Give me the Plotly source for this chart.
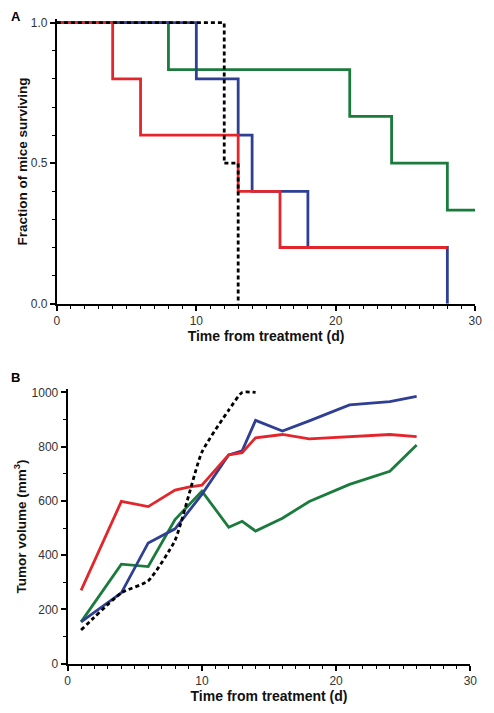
import plotly.graph_objects as go

# ---------------- Data ----------------
# Panel A: Kaplan-Meier survival (event times, surviving fraction)
surv_red_t = [0, 4, 6, 13, 16, 28]
surv_red_s = [1.0, 0.8, 0.6, 0.4, 0.2, 0.2]
surv_blue_t = [0, 10, 13, 14, 18, 28]
surv_blue_s = [1.0, 0.8, 0.6, 0.4, 0.2, 0.0]
surv_green_t = [0, 8, 21, 24, 28, 30]
surv_green_s = [1.0, 0.833, 0.667, 0.5, 0.333, 0.333]
surv_black_t = [0, 12, 13]
surv_black_s = [1.0, 0.5, 0.0]

# Panel B: tumor volume (mm^3)
vol_red_t = [1, 4, 6, 8, 9, 10, 12, 13, 14, 16, 18, 21, 24, 26]
vol_red_v = [270, 598, 579, 640, 651, 658, 770, 778, 833, 845, 829, 837, 845, 837]
vol_blue_t = [1, 4, 6, 8, 10, 12, 13, 14, 16, 18, 21, 24, 26]
vol_blue_v = [154, 261, 445, 497, 624, 770, 785, 897, 858, 895, 954, 966, 986]
vol_green_t = [1, 4, 6, 8, 10, 12, 13, 14, 16, 18, 21, 24, 26]
vol_green_v = [154, 367, 358, 531, 636, 503, 525, 489, 536, 598, 661, 709, 806]
vol_black_t = [1, 4, 6, 8, 10, 12, 13, 14]
vol_black_v = [124, 261, 305, 455, 780, 935, 1000, 1000]

RED = "#e3262c"
BLUE = "#2f3f93"
GREEN = "#1b7b3d"
BLACK = "#000000"
LW = 2.8
FONT = "Liberation Sans, Arial, sans-serif"

W, H = 494, 713

def px_x(p):
    return p / W

def px_y(p):
    return 1 - p / H

fig = go.Figure()

# Panel A traces
for t, s, c, dash in [
    (surv_green_t, surv_green_s, GREEN, "solid"),
    (surv_blue_t, surv_blue_s, BLUE, "solid"),
    (surv_red_t, surv_red_s, RED, "solid"),
    (surv_black_t, surv_black_s, BLACK, "4px,3px"),
]:
    fig.add_trace(go.Scatter(x=t, y=s, mode="lines", line=dict(color=c, width=LW, dash=dash, shape="hv"),
                             xaxis="x", yaxis="y", showlegend=False, hoverinfo="skip"))

# Panel B traces
for t, v, c, dash, shape in [
    (vol_green_t, vol_green_v, GREEN, "solid", "linear"),
    (vol_blue_t, vol_blue_v, BLUE, "solid", "linear"),
    (vol_red_t, vol_red_v, RED, "solid", "linear"),
    (vol_black_t, vol_black_v, BLACK, "4px,3px", "spline"),
]:
    fig.add_trace(go.Scatter(x=t, y=v, mode="lines",
                             line=dict(color=c, width=LW, dash=dash, shape=shape, smoothing=0.5),
                             xaxis="x2", yaxis="y2", showlegend=False, hoverinfo="skip"))

tickfont = dict(family=FONT, size=12, color="#333333")
xtitlefont = dict(family=FONT, size=14, color="#111111")
ytitlefont = dict(family=FONT, size=13.5, color="#111111")

# Panel A: plot area x 55..482, y(1.0)=20, y(0)=305 (screenshot px)
a_top_extra = 0.012
a_top_px = 20 - a_top_extra * (305 - 20)

# Panel B: x 66..477, y(1000)=395, y(0)=670
b_top_extra = 12
b_top_px = 395 - b_top_extra * (670 - 395) / 1000

axis_common = dict(showgrid=False, zeroline=False, showline=True, linecolor="black", linewidth=2,
                   ticks="outside", ticklen=5, tickwidth=1.5, tickcolor="black", tickfont=tickfont)
minor_common = dict(ticks="outside", ticklen=3, tickwidth=1.2, tickcolor="black")

fig.update_layout(
    width=W, height=H,
    margin=dict(l=0, r=0, t=0, b=0),
    paper_bgcolor="white", plot_bgcolor="white",
    xaxis=dict(domain=[px_x(55), px_x(482)], range=[0, 30], tickvals=[0, 10, 20, 30],
               minor=dict(dtick=1, **minor_common),
               title=dict(text="<b>Time from treatment (d)</b>", font=xtitlefont, standoff=3),
               anchor="y", **axis_common),
    yaxis=dict(domain=[px_y(305), px_y(a_top_px)], range=[0, 1.0 + a_top_extra],
               tickvals=[0, 0.5, 1.0], tickformat=".1f",
               minor=dict(dtick=0.1, **minor_common),
               title=dict(text="<b>Fraction of mice surviving</b>", font=ytitlefont, standoff=0),
               anchor="x", **axis_common),
    xaxis2=dict(domain=[px_x(66), px_x(477)], range=[0, 30], tickvals=[0, 10, 20, 30],
                minor=dict(dtick=1, **minor_common),
                title=dict(text="<b>Time from treatment (d)</b>", font=xtitlefont, standoff=3),
                anchor="y2", **axis_common),
    yaxis2=dict(domain=[px_y(670), px_y(b_top_px)], range=[0, 1000 + b_top_extra],
                tickvals=[0, 200, 400, 600, 800, 1000],
                minor=dict(dtick=100, **minor_common),
                title=dict(text="<b>Tumor volume (mm<sup>3</sup>)</b>", font=ytitlefont, standoff=2),
                anchor="x2", **axis_common),
    annotations=[
        dict(text="<b>A</b>", x=px_x(6), y=px_y(4), xref="paper", yref="paper",
             xanchor="left", yanchor="top", showarrow=False, font=dict(family=FONT, size=13, color="black")),
        dict(text="<b>B</b>", x=px_x(6), y=px_y(370), xref="paper", yref="paper",
             xanchor="left", yanchor="top", showarrow=False, font=dict(family=FONT, size=13, color="black")),
    ],
)

fig.write_html("out.html", config={"displayModeBar": False},
               post_script="document.body.style.margin='0px'; document.body.style.overflow='hidden';")
